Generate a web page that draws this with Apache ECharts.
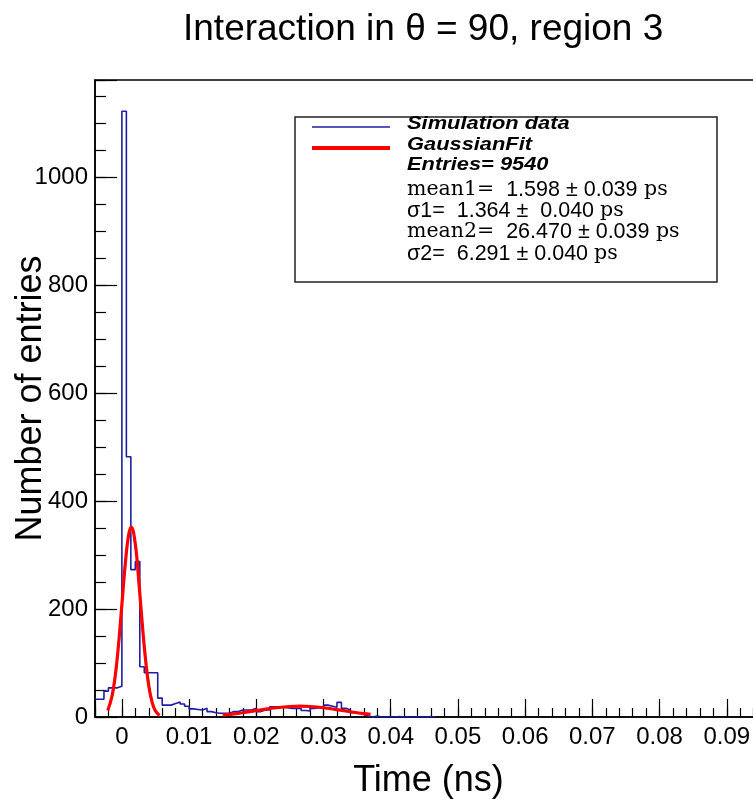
<!DOCTYPE html>
<html>
<head>
<meta charset="utf-8">
<script src="https://cdn.jsdelivr.net/npm/echarts@6/dist/echarts.min.js"></script>
<style>
  html, body { margin: 0; padding: 0; background: #fff; }
  #chart { width: 753px; height: 799px; }
</style>
</head>
<body>
<div id="chart"></div>
<script>
// histogram binning: 156 bins over [-0.004, 0.1] ns
const binStart = -0.004;
const binWidth = 0.104 / 156;

// entries per bin (bins past the last one are empty)
const simCounts = [
  33, 33, 48, 54, 54, 57, 1122, 482, 273, 288,
  93, 82, 82, 82, 35, 22, 22, 25, 28, 24,
  20, 15, 14, 13, 16, 10, 8, 7, 7, 7,
  10, 10, 13, 13, 13, 16, 10, 13, 13, 19,
  19, 18, 17, 16, 16, 16, 12, 11, 16, 17,
  17, 22, 20, 18, 27, 16, 13, 8, 8, 5,
  2, 0, 2, 0, 0, 0, 0, 1, 0, 0,
  0, 0, 0, 0, 1, 0
];

// red fit curves
const fit1X = [-0.0021, -0.0015, -0.001, -0.0005, 0, 0.0005, 0.001, 0.0014, 0.002, 0.0025, 0.003, 0.0035, 0.004, 0.0045, 0.005, 0.0056];
const fit1Y = [12, 37, 75, 134, 208, 283, 337, 352, 320, 254, 177, 109, 58, 27, 11, 3];
const fit2X = [0.015, 0.017, 0.019, 0.021, 0.023, 0.025, 0.0265, 0.028, 0.030, 0.032, 0.034, 0.036, 0.037];
const fit2Y = [4, 6.4, 9.9, 13.7, 17.1, 19.5, 20, 19.4, 17.2, 13.6, 9.8, 6.3, 5];

const yTickLabels = [0, 200, 400, 600, 800, 1000];
const xTickLabels = [0, 0.01, 0.02, 0.03, 0.04, 0.05, 0.06, 0.07, 0.08, 0.09];

const statLines = [
  '{serif|mean1=}{sans|  1.598 ± 0.039}{serif| ps}',
  '{sans|σ1=  1.364 ±  0.040 }{serif|ps}',
  '{serif|mean2=}{sans|  26.470 ± 0.039}{serif| ps}',
  '{sans|σ2=  6.291 ± 0.040 }{serif|ps}'
];
const statY = [190, 211, 232, 254];

const FONT = '"Liberation Sans", Arial, sans-serif';
const BLUE = '#1e1ea6';

const histData = simCounts.map((c, i) => [binStart + i * binWidth, c]);
histData.push([binStart + simCounts.length * binWidth, 0]);

const chart = echarts.init(document.getElementById('chart'));

const isLabel = (v, list) => list.some(t => Math.abs(t - v) < 1e-9);

const boxText = (text, y) => ({
  type: 'text', x: 407, y: y, scaleX: 1.15, z: 11,
  style: { text: text, font: 'italic bold 19px "Liberation Sans"', fill: '#000', verticalAlign: 'middle' }
});

const option = {
  backgroundColor: '#fff',
  animation: false,
  title: {
    text: 'Interaction in θ = 90, region 3',
    left: 178,
    top: 6,
    textStyle: { fontFamily: FONT, fontSize: 37, fontWeight: 'normal', color: '#000' }
  },
  grid: {
    left: 95,
    top: 80,
    right: -41,
    bottom: 82,
    outerBoundsMode: 'none',
    containLabel: false,
    show: true,
    borderColor: '#000',
    borderWidth: 1.5
  },
  xAxis: [
    {
      type: 'value',
      min: binStart,
      max: 0.1,
      splitNumber: 10,
      position: 'bottom',
      name: 'Time (ns)',
      nameLocation: 'middle',
      nameGap: 46,
      nameMoveOverlap: false,
      nameTextStyle: { fontFamily: FONT, fontSize: 36, color: '#000', padding: [0, 32, 0, 0] },
      axisLine: { onZero: false, lineStyle: { color: '#000', width: 1.5 } },
      axisTick: { inside: true, length: 18, lineStyle: { color: '#000', width: 1.2 } },
      axisLabel: {
        margin: 8,
        fontFamily: FONT,
        fontSize: 24,
        color: '#000',
        formatter: v => isLabel(v, xTickLabels) ? String(Number(v.toFixed(2))) : ''
      },
      splitLine: { show: false }
    },
    {
      type: 'value',
      min: binStart,
      max: 0.1,
      interval: 0.002,
      position: 'bottom',
      axisLine: { show: false, onZero: false },
      axisTick: { inside: true, length: 9, lineStyle: { color: '#000', width: 1.2 } },
      axisLabel: { show: false },
      splitLine: { show: false }
    }
  ],
  yAxis: [
    {
      type: 'value',
      min: 0,
      max: 1180,
      interval: 200,
      position: 'left',
      name: 'Number of entries',
      nameLocation: 'middle',
      nameGap: 46,
      nameMoveOverlap: false,
      nameTextStyle: { fontFamily: FONT, fontSize: 36, color: '#000' },
      axisLine: { show: true, onZero: false, lineStyle: { color: '#000', width: 1.5 } },
      axisTick: { show: true, inside: true, length: 22, lineStyle: { color: '#000', width: 1.2 } },
      axisLabel: {
        margin: 7,
        fontFamily: FONT,
        fontSize: 24,
        color: '#000',
        formatter: v => isLabel(v, yTickLabels) ? String(v) : ''
      },
      splitLine: { show: false }
    },
    {
      type: 'value',
      min: 0,
      max: 1180,
      interval: 50,
      position: 'left',
      axisLine: { show: false, onZero: false },
      axisTick: { show: true, inside: true, length: 11, lineStyle: { color: '#000', width: 1.2 } },
      axisLabel: { show: false },
      splitLine: { show: false }
    }
  ],
  series: [
    {
      name: 'Simulation data',
      type: 'line',
      step: 'end',
      data: histData,
      showSymbol: false,
      lineStyle: { color: BLUE, width: 1.6 },
      z: 2
    },
    {
      name: 'GaussianFit',
      type: 'line',
      data: fit1X.map((x, i) => [x, fit1Y[i]]),
      smooth: 0.4,
      showSymbol: false,
      lineStyle: { color: '#ff0000', width: 3.2 },
      z: 3
    },
    {
      name: 'GaussianFit',
      type: 'line',
      data: fit2X.map((x, i) => [x, fit2Y[i]]),
      smooth: 0.4,
      showSymbol: false,
      lineStyle: { color: '#ff0000', width: 3.2 },
      z: 3
    }
  ],
  graphic: [
    {
      type: 'rect',
      shape: { x: 295, y: 117, width: 422, height: 165 },
      style: { fill: '#fff', stroke: '#222', lineWidth: 1.5 },
      z: 10
    },
    {
      type: 'line',
      shape: { x1: 312, y1: 127, x2: 390, y2: 127 },
      style: { stroke: BLUE, lineWidth: 1.5 },
      z: 11
    },
    {
      type: 'line',
      shape: { x1: 312, y1: 148, x2: 390, y2: 148 },
      style: { stroke: '#ff0000', lineWidth: 4 },
      z: 11
    },
    boxText('Simulation data', 124),
    boxText('GaussianFit', 145),
    boxText('Entries= 9540', 165)
  ].concat(statLines.map((t, i) => ({
    type: 'text',
    x: 407,
    y: statY[i],
    z: 11,
    style: {
      text: t,
      verticalAlign: 'middle',
      rich: {
        serif: { fontFamily: '"DejaVu Serif"', fontSize: 20.5, fill: '#000' },
        sans: { fontFamily: FONT, fontSize: 21.5, fill: '#000' }
      }
    }
  })))
};

chart.setOption(option);
window.addEventListener('resize', () => chart.resize());
</script>
</body>
</html>
